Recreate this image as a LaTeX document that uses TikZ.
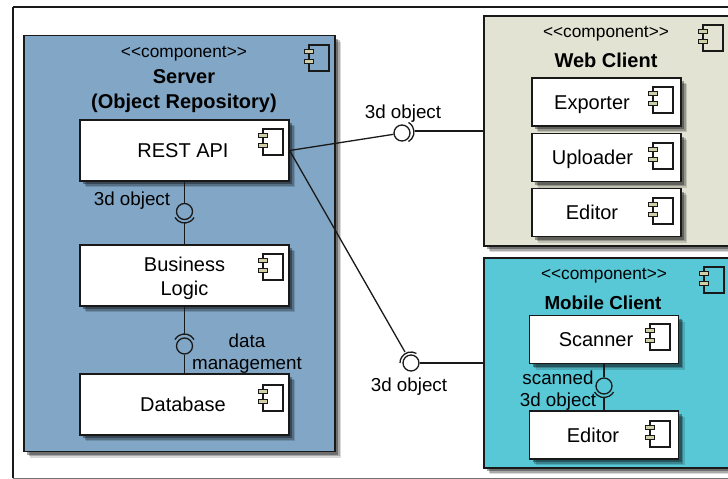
\documentclass[tikz,border=0pt]{standalone}
\usepackage{fontspec}
\setmainfont{Liberation Sans}
\usetikzlibrary{positioning,shadows}
\definecolor{serverblue}{HTML}{82A7C6}
\definecolor{webgrey}{HTML}{E2E3D3}
\definecolor{mobilecyan}{HTML}{58C8D7}
\definecolor{tabyellow}{HTML}{CFCFA8}
\newcommand{\socket}[3]{\draw[wire] ([shift={(#2:11pt)}]#1) arc (#2:#3:11pt);}
\begin{document}
\begin{tikzpicture}[x=1pt,y=-1pt,
    wire/.style={line width=1.3pt,draw=black!90},
    shade/.style={drop shadow={shadow xshift=6pt,shadow yshift=-6pt,fill=black,opacity=.15},
      drop shadow={shadow xshift=4.5pt,shadow yshift=-4.5pt,fill=black,opacity=.22},
      drop shadow={shadow xshift=3pt,shadow yshift=-3pt,fill=black,opacity=.35}},
    container/.style={draw=black!90,line width=1.3pt,inner sep=0pt,shade},
    part/.style={draw=black!90,fill=white,line width=1.3pt,inner sep=0pt,align=center,
      font=\fontsize{20}{24}\selectfont,shade},
    oneline/.style={part,text height=14pt,text depth=0pt},
    stereo/.style={font=\fontsize{17.3}{20}\selectfont,inner sep=0pt},
    title/.style={font=\fontsize{20}{25}\bfseries\selectfont,align=center,inner sep=0pt},
    tag/.style={font=\fontsize{18.8}{22}\selectfont,align=center,inner sep=0pt},
    ball/.style={circle,draw=black!90,line width=1.3pt,minimum size=16pt,inner sep=0pt}]
  \useasboundingbox (0,0) rectangle (728,479);
  \clip (0,0) rectangle (728,479);
  \draw[line width=1.3pt,draw=black!90] (13,7) -- (740,7);
  \draw[line width=1.3pt,draw=black!90] (13,7) -- (13,478);
  \draw[line width=1.3pt,draw=black!55] (13,478.4) -- (740,478.4);

  % containers
  \node[container,fill=serverblue,minimum width=311pt,minimum height=416pt] (server) at (179.5,243.5) {};
  \node[container,fill=webgrey,minimum width=280pt,minimum height=230pt] (web) at (624,131) {};
  \node[container,fill=mobilecyan,minimum width=280pt,minimum height=210pt] (mobile) at (624,363) {};

  \node[stereo] (serverstereo) at (184,53.5) {<{}<component>{}>};
  \node[title] (servertitle) at (184,91) {Server\\(Object Repository)};
  \node[stereo] (webstereo) at (606,33.5) {<{}<component>{}>};
  \node[title] (webtitle) at (606,60) {Web Client};
  \node[stereo] (mobilestereo) at (604,275.5) {<{}<component>{}>};
  \node[title,font=\fontsize{18.8}{24}\bfseries\selectfont] (mobiletitle) at (603,303) {Mobile Client};

  % inner components
  \node[oneline,minimum width=209pt,minimum height=61pt] (rest) at (184.5,150.5) {REST API\hspace{3pt}};
  \node[part,minimum width=209pt,minimum height=61pt] (logic) at (184.5,275.5) {\rule{0pt}{20.5pt}Business\\Logic};
  \node[oneline,minimum width=209pt,minimum height=61pt] (database) at (184.5,404.5) {Database\hspace{3pt}};
  \node[oneline,minimum width=149pt,minimum height=48pt] (exporter) at (606.5,102) {Exporter\hspace{29pt}};
  \node[oneline,minimum width=149pt,minimum height=48pt] (uploader) at (606.5,157.5) {Uploader\hspace{28pt}};
  \node[oneline,minimum width=149pt,minimum height=48pt] (webeditor) at (606.5,212.5) {Editor\hspace{29pt}};
  \node[oneline,minimum width=149pt,minimum height=48pt] (scanner) at (604,339.5) {Scanner\hspace{16pt}};
  \node[oneline,minimum width=149pt,minimum height=48pt] (mobileeditor) at (604,435) {Editor\hspace{22pt}};

  % component icons
  \foreach \x/\y in {309/45,263/129,263/254,263/385,703/25,653/87,653/143,653/198,704/267,650/324,650/421} {
    \draw[line width=1.2pt,draw=black!90] (\x,\y) rectangle ++(20,26);
    \draw[line width=.8pt,draw=black!90,fill=tabyellow] (\x-4.5,\y+4) rectangle ++(9,4.5);
    \draw[line width=.8pt,draw=black!90,fill=tabyellow] (\x-4.5,\y+14) rectangle ++(9,4.5);
  }

  % interfaces
  \node[ball] (restball) at (184.5,211.5) {};
  \coordinate (restsocket) at (184.5,223);
  \node[ball] (databall) at (184.5,346) {};
  \coordinate (datasocket) at (184.5,333.5);
  \node[ball] (webball) at (402,133) {};
  \coordinate (websocket) at (414.5,131);
  \node[ball] (mobileball) at (411,363) {};
  \coordinate (mobilesocket) at (405,352);
  \node[ball] (scanball) at (604,386) {};
  \coordinate (scansocket) at (604,397.5);

  \socket{184.5,212}{-150}{-30}
  \socket{184.5,345}{30}{150}
  \socket{403,132}{-60}{60}
  \socket{411,363}{60}{180}
  \socket{604,386.5}{-150}{-30}

  \path[wire] (rest.south) edge (restball)
    (restsocket) edge (logic.north)
    (logic.south) edge (datasocket)
    (databall) edge (database.north)
    (rest.east) edge (webball)
    (websocket) edge (websocket -| web.west)
    (rest.east) edge (mobilesocket)
    (mobileball) edge (mobileball -| mobile.west)
    (scanner.south) edge (scanball)
    (scansocket) edge (mobileeditor.north);

  % labels
  \node[tag] (restlabel) at (132,201) {3d object};
  \node[tag] (datalabel) at (247,354) {data\\management};
  \node[tag] (weblabel) at (403,114) {3d object};
  \node[tag] (mobilelabel) at (409,387) {3d object};
  \node[tag] (scanlabel) at (558,391) {scanned\\3d object};
\end{tikzpicture}
\end{document}
